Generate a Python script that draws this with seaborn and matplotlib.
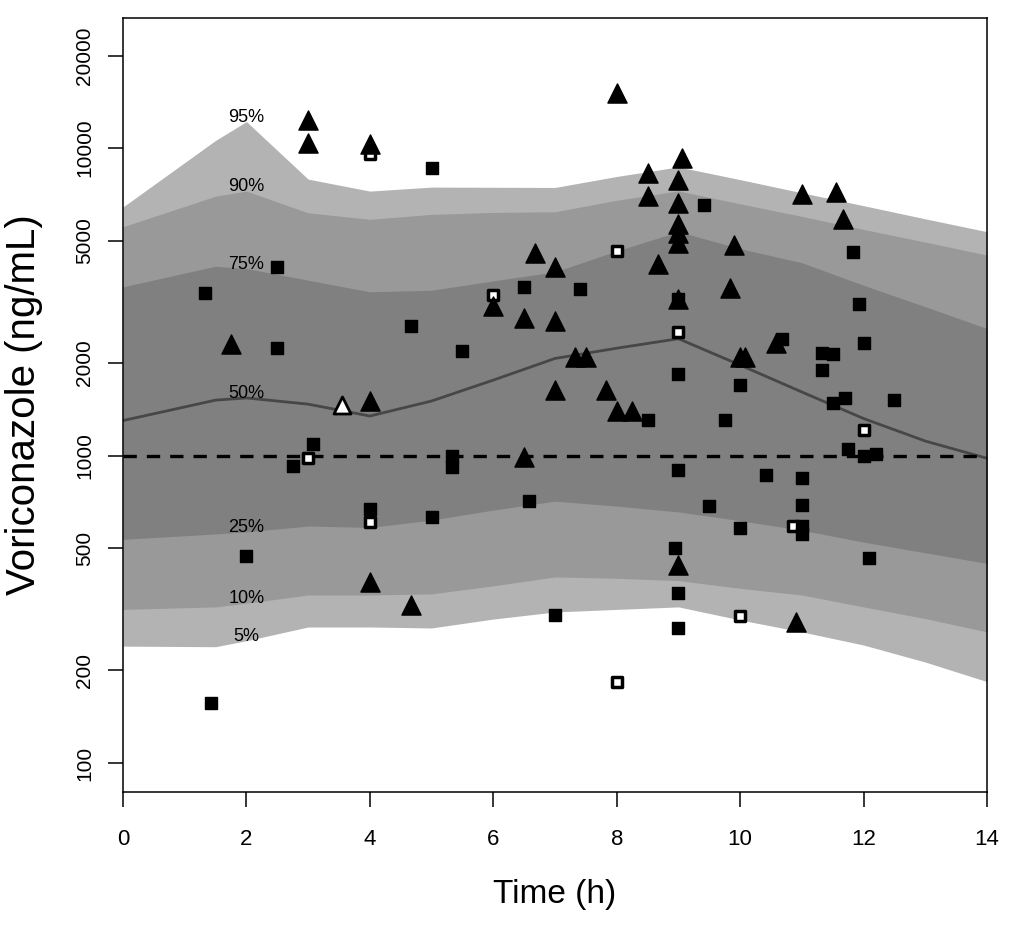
"""Visual predictive check of voriconazole concentrations vs time."""

import matplotlib
matplotlib.use("Agg")
import matplotlib.pyplot as plt
import seaborn as sns
from matplotlib.ticker import NullLocator

# simulated percentiles (ng/mL) on the simulation time grid (h)
sim_time = [0, 1.5, 2, 3, 4, 5, 6, 7, 8, 9, 10, 11, 12, 13, 14]
p95 = [6440, 10600, 12200, 7930, 7250, 7470, 7460, 7450, 8090, 8690, 7900, 7160, 6500, 5890, 5350]
p90 = [5550, 6980, 7250, 6160, 5870, 6090, 6180, 6210, 6770, 7260, 6590, 6000, 5440, 4950, 4490]
p75 = [3540, 4130, 4060, 3720, 3410, 3450, 3700, 3960, 4630, 5350, 4710, 4240, 3580, 3050, 2590]
p50 = [1300, 1515, 1540, 1470, 1345, 1505, 1760, 2070, 2235, 2400, 1970, 1610, 1320, 1115, 980]
p25 = [534, 556, 565, 590, 584, 617, 665, 711, 685, 656, 614, 572, 523, 483, 446]
p10 = [316, 322, 331, 352, 352, 355, 377, 403, 399, 392, 370, 352, 322, 295, 267]
p05 = [240, 239, 250, 277, 277, 275, 294, 310, 316, 322, 292, 267, 242, 213, 184]

target_conc = 1000

# observed concentrations, by symbol
sq_time = [1.33, 1.43, 2.0, 2.5, 2.5, 2.75, 3.08, 4.0, 4.67, 5.0, 5.0, 5.33, 5.33, 5.5,
           6.5, 6.58, 7.0, 7.4, 8.5, 8.95, 9.0, 9.0, 9.0, 9.0, 9.0, 9.42, 9.5, 9.75,
           10.0, 10.0, 10.42, 10.67, 11.0, 11.0, 11.0, 11.0, 11.32, 11.32, 11.5, 11.5,
           11.7, 11.75, 11.83, 11.92, 12.0, 12.0, 12.08, 12.2, 12.5]
sq_conc = [3380, 157, 471, 4100, 2240, 924, 1087, 670, 2640, 8600, 630, 1000, 920, 2190,
           3530, 713, 303, 3480, 1305, 500, 3240, 1840, 897, 356, 274, 6530, 685, 1310,
           1700, 580, 864, 2400, 843, 690, 590, 556, 2160, 1900, 2140, 1480,
           1535, 1048, 4600, 3110, 2330, 1000, 465, 1010, 1515]

open_sq_time = [3.0, 4.0, 4.0, 6.0, 8.0, 8.0, 9.0, 10.0, 10.86, 12.0]
open_sq_conc = [980, 9600, 610, 3330, 4630, 183, 2515, 301, 590, 1210]

tri_time = [1.75, 3.0, 3.0, 4.0, 4.0, 4.0, 4.67, 6.0, 6.5, 6.5, 6.67, 7.0, 7.0, 7.0,
            7.33, 7.5, 7.83, 8.0, 8.0, 8.25, 8.5, 8.5, 8.67, 9.0, 9.0, 9.0, 9.0, 9.0,
            9.0, 9.0, 9.05, 9.84, 9.9, 10.0, 10.08, 10.58, 10.9, 11.0, 11.55, 11.67]
tri_conc = [2300, 12330, 10400, 10300, 1500, 387, 326, 3060, 2800, 990, 4570, 4110, 2745, 1630,
            2100, 2100, 1630, 15100, 1400, 1400, 8320, 6990, 4200, 7870, 6640, 5660, 5280, 4920,
            3230, 440, 9260, 3500, 4840, 2100, 2100, 2330, 288, 7120, 7200, 5900]

open_tri_time = [3.55]
open_tri_conc = [1460]

band_labels = ["95%", "90%", "75%", "50%", "25%", "10%", "5%"]
band_values = [p95, p90, p75, p50, p25, p10, p05]

y_ticks = [100, 200, 500, 1000, 2000, 5000, 10000, 20000]
x_ticks = [0, 2, 4, 6, 8, 10, 12, 14]

sns.set_style("ticks")
plt.rcParams["font.family"] = ["Liberation Sans", "DejaVu Sans"]
plt.rcParams.update({"text.color": "black", "axes.labelcolor": "black",
                     "xtick.color": "black", "ytick.color": "black",
                     "axes.linewidth": 1.1})

fig = plt.figure(figsize=(10.26, 9.3), dpi=100)
ax = fig.add_axes([0.1199, 0.1484, 0.8421, 0.8322])
ax.set_yscale("log")

# prediction bands
ax.fill_between(sim_time, p05, p95, color="#b3b3b3", lw=0, zorder=1)
ax.fill_between(sim_time, p10, p90, color="#999999", lw=0, zorder=1)
ax.fill_between(sim_time, p25, p75, color="#808080", lw=0, zorder=1)
sns.lineplot(x=sim_time, y=p50, color="#474747", lw=2, ax=ax, zorder=2)

ax.axhline(target_conc, color="black", lw=2.4, ls="--", dashes=(4, 3), zorder=3)

label_time = sim_time[2]
for lab, vals in zip(band_labels, band_values):
    ax.text(label_time, vals[2], lab, ha="center", va="baseline", fontsize=13,
            color="black", zorder=3)

# observations
sns.scatterplot(x=open_sq_time, y=open_sq_conc, marker="s", s=58, color="white",
                edgecolor="black", linewidth=2.5, ax=ax, zorder=4)
sns.scatterplot(x=sq_time, y=sq_conc, marker="s", s=81, color="black",
                edgecolor="black", linewidth=1, ax=ax, zorder=5)
sns.scatterplot(x=tri_time, y=tri_conc, marker="^", s=190, color="black",
                edgecolor="black", linewidth=1, ax=ax, zorder=6)
sns.scatterplot(x=open_tri_time, y=open_tri_conc, marker="^", s=150, color="white",
                edgecolor="black", linewidth=2, ax=ax, zorder=6)

ax.set_xlim(0, 14)
ax.set_ylim(80.5, 26500)
ax.set_xticks(x_ticks, [str(t) for t in x_ticks])
ax.set_yticks(y_ticks, [str(t) for t in y_ticks], rotation=90, va="center")
ax.yaxis.set_minor_locator(NullLocator())

ax.tick_params(axis="both", length=10.8, width=1.1, color="black")
ax.tick_params(axis="x", pad=16, labelsize=16)
ax.tick_params(axis="y", pad=10, labelsize=15)
for side in ax.spines.values():
    side.set_color("black")
    side.set_linewidth(1.1)

ax.set_xlabel("Time (h)", fontsize=24)
ax.set_ylabel("Voriconazole (ng/mL)", fontsize=29)
ax.xaxis.set_label_coords(0.5, -0.113)
ax.yaxis.set_label_coords(-0.093, 0.5)

fig.savefig("out.png", dpi=100)
